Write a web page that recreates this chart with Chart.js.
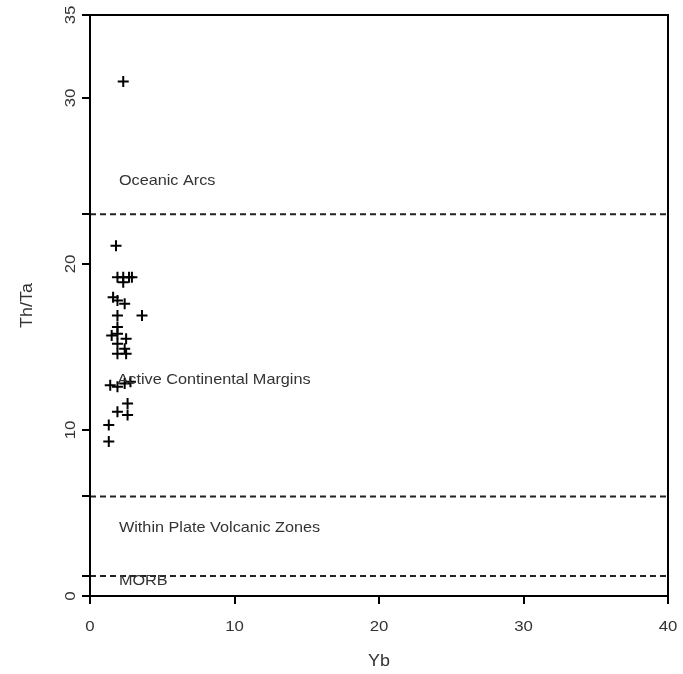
<!DOCTYPE html>
<html>
<head>
<meta charset="utf-8">
<script src="https://cdn.jsdelivr.net/npm/chart.js@4"></script>
<style>
  body { margin: 0; background: #fff; }
  canvas { display: block; }
</style>
</head>
<body>
<canvas id="chart" width="683" height="674"></canvas>
<script>
// samples: Yb vs Th/Ta
var ybValues   = [2.3, 1.8, 1.9, 2.3, 2.7, 2.9, 2.3, 1.6, 1.9, 2.4, 1.9, 3.6, 1.9, 1.5, 1.9,
                  2.5, 1.9, 2.4, 1.9, 2.5, 1.4, 1.9, 2.4, 2.8, 1.9, 2.6, 2.6, 1.3, 1.3];
var thTaValues = [31.0, 21.1, 19.2, 19.2, 19.2, 19.2, 18.9, 18.0, 17.8, 17.6, 16.9, 16.9, 16.2, 15.7, 15.8,
                  15.5, 15.2, 14.9, 14.6, 14.6, 12.7, 12.6, 12.8, 12.9, 11.1, 11.6, 10.9, 10.3, 9.3];

// boundaries between fields (Th/Ta)
var boundaries = [23, 6, 1.2];

// field names and where they sit (Yb, Th/Ta)
var fieldNames = ["Oceanic Arcs", "Active Continental Margins", "Within Plate Volcanic Zones", "MORB"];
var fieldX     = [2, 1.9, 2, 2];
var fieldY     = [25, 13, 4.1, 0.9];

var xTicks = [0, 10, 20, 30, 40];
var yTicks = [0, 1.2, 6, 10, 20, 23, 30, 35];
var yLabelled = [0, 10, 20, 30, 35];

var points = [];
for (var i = 0; i < ybValues.length; i++) {
	points.push({x: ybValues[i], y: thTaValues[i]});
}

var datasets = [{
	type: 'scatter',
	data: points,
	pointStyle: 'cross',
	pointRadius: 5.5,
	pointBorderWidth: 2,
	borderColor: '#000',
	backgroundColor: '#000'
}];
boundaries.forEach(function(b) {
	datasets.push({
		type: 'line',
		data: [{x: 0, y: b}, {x: 40, y: b}],
		borderColor: '#222',
		borderWidth: 2,
		borderDash: [6, 4],
		pointRadius: 0,
		fill: false
	});
});

var FONT = "'Liberation Sans', Arial, sans-serif";
var STRETCH = 1.12; // the text in the original is a bit wide

function wideText(ctx, txt, x, y, angle) {
	ctx.save();
	ctx.translate(x, y);
	if (angle) ctx.rotate(angle);
	ctx.scale(STRETCH, 1);
	ctx.fillText(txt, 0, 0);
	ctx.restore();
}

// box, labels, titles and field names
var extras = {
	id: 'extras',
	afterDraw: function(chart) {
		var ctx = chart.ctx;
		var a = chart.chartArea;
		var xs = chart.scales.x, ys = chart.scales.y;
		ctx.save();
		ctx.strokeStyle = '#000';
		ctx.lineWidth = 2;
		ctx.strokeRect(a.left, a.top, a.right - a.left, a.bottom - a.top);

		ctx.fillStyle = '#333';
		ctx.font = '15px ' + FONT;
		ctx.textAlign = 'center';
		ctx.textBaseline = 'middle';
		yLabelled.forEach(function(v) {
			wideText(ctx, String(v), a.left - 19, ys.getPixelForValue(v), -Math.PI / 2);
		});
		xTicks.forEach(function(v) {
			wideText(ctx, String(v), xs.getPixelForValue(v), 627);
		});

		ctx.font = '16px ' + FONT;
		wideText(ctx, 'Yb', (a.left + a.right) / 2, 662);
		wideText(ctx, 'Th/Ta', 28, (a.top + a.bottom) / 2, -Math.PI / 2);

		ctx.font = '14.5px ' + FONT;
		ctx.textAlign = 'left';
		for (var i = 0; i < fieldNames.length; i++) {
			wideText(ctx, fieldNames[i], xs.getPixelForValue(fieldX[i]), ys.getPixelForValue(fieldY[i]));
		}
		ctx.restore();
	}
};

new Chart(document.getElementById('chart'), {
	data: {datasets: datasets},
	options: {
		responsive: false,
		animation: false,
		layout: {padding: {top: 15, right: 15, left: 0, bottom: 0}},
		plugins: {legend: {display: false}, tooltip: {enabled: false}},
		scales: {
			x: {
				type: 'linear',
				min: 0, max: 40,
				afterBuildTicks: function(s) { s.ticks = xTicks.map(function(v) { return {value: v}; }); },
				afterFit: function(s) { s.height = 78; s.paddingRight = 0; s.paddingLeft = 0; },
				border: {display: false},
				grid: {drawOnChartArea: false, drawTicks: true, tickLength: 8, color: '#000', lineWidth: 2},
				ticks: {display: false}
			},
			y: {
				type: 'linear',
				min: 0, max: 35,
				afterBuildTicks: function(s) { s.ticks = yTicks.map(function(v) { return {value: v}; }); },
				afterFit: function(s) { s.width = 90; s.paddingTop = 0; s.paddingBottom = 0; },
				border: {display: false},
				grid: {drawOnChartArea: false, drawTicks: true, tickLength: 8, color: '#000', lineWidth: 2},
				ticks: {display: false}
			}
		}
	},
	plugins: [extras]
});
</script>
</body>
</html>
